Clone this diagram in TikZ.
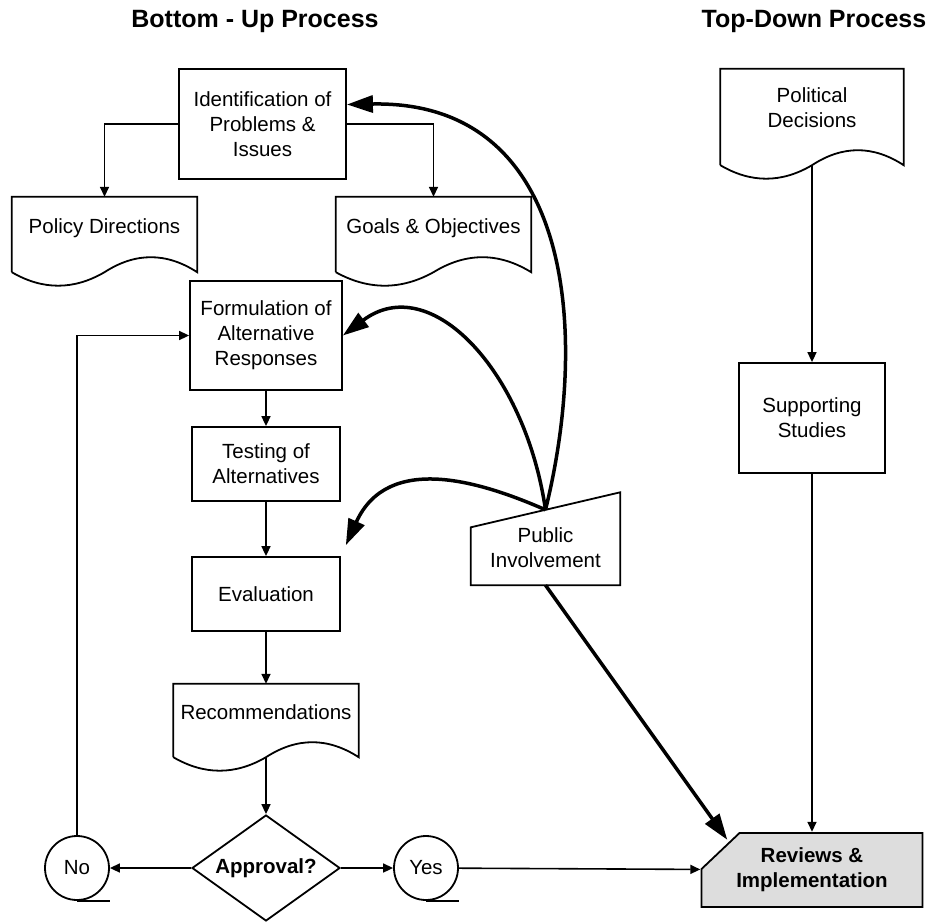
\documentclass[tikz,border=0pt]{standalone}
\usepackage{fontspec}
\setmainfont{Liberation Sans}
\usepackage{tikz}
\usetikzlibrary{shapes.geometric, arrows.meta, calc}
\definecolor{revfill}{HTML}{DDDDDD}
\tikzstyle{txt} = [font=\fontsize{20.5}{25}\selectfont, align=center]
\tikzstyle{heading} = [font=\fontsize{25}{30}\selectfont\bfseries, anchor=base]
\tikzstyle{docline} = [line width=1.8pt]
\tikzstyle{process} = [rectangle, draw=black, line width=1.8pt, inner sep=0pt, txt]
\tikzstyle{docbox} = [rectangle, inner sep=0pt, minimum height=75pt, text depth=17pt, txt, append after command={\pgfextra{\let\docnode\tikzlastnode
  \draw[docline] (\docnode.south west) -- (\docnode.north west) -- (\docnode.north east) -- (\docnode.south east)
  .. controls ($(\docnode.south east)!0.333!(\docnode.south)+(0,-20)$) and ($(\docnode.south east)!0.667!(\docnode.south)+(0,-20)$) .. (\docnode.south)
  .. controls ($(\docnode.south)!0.333!(\docnode.south west)+(0,18)$) and ($(\docnode.south)!0.667!(\docnode.south west)+(0,18)$) .. (\docnode.south west);}}]
\tikzstyle{manual} = [rectangle, inner sep=0pt, minimum width=149pt, minimum height=75pt, txt, append after command={\pgfextra{\let\mnode\tikzlastnode
  \draw[docline] (\mnode.south west) -- ([yshift=-17.5pt]\mnode.north west) -- ([yshift=17.5pt]\mnode.north east) -- (\mnode.south east) -- cycle;}}]
\tikzstyle{tape} = [circle, draw=black, line width=1.8pt, minimum size=64pt, inner sep=0pt, txt, append after command={\pgfextra{\draw[docline] (\tikzlastnode.south) -- ++(33,0);}}]
\tikzstyle{decision} = [diamond, draw=black, line width=1.8pt, aspect=1.4, inner sep=0pt, minimum width=148pt, minimum height=106pt, txt, font=\fontsize{20.5}{25}\selectfont\bfseries]
\tikzstyle{review} = [rectangle, inner sep=0pt, minimum width=223pt, minimum height=76pt, txt, font=\fontsize{20.5}{25}\selectfont\bfseries, path picture={\filldraw[fill=revfill, line width=1.8pt]
  ([shift={(1pt,-37pt)}]path picture bounding box.north west) -- ([shift={(39pt,-1pt)}]path picture bounding box.north west) -- ([shift={(-1pt,-1pt)}]path picture bounding box.north east) -- ([shift={(-1pt,1pt)}]path picture bounding box.south east) -- ([shift={(1pt,1pt)}]path picture bounding box.south west) -- cycle;}]
\tikzstyle{arrow} = [line width=1.6pt, -{Triangle[length=10pt,width=9pt]}]
\tikzstyle{bigarrow} = [line width=3.5pt, -{Triangle[length=26pt,width=17pt]}]

\begin{document}
\begin{tikzpicture}[x=1pt, y=-1pt]
\useasboundingbox (0,0) rectangle (930,922);
\node (bu) [heading] at (255,27) {Bottom - Up Process};
\node (td) [heading] at (814,27) {Top-Down Process};
\node (ident) [process, minimum width=167pt, minimum height=110pt] at (262.5,124) {Identification of\\Problems \&\\Issues};
\node (policy) [docbox, minimum width=185pt] at (104.5,234.5) {Policy Directions};
\node (goals) [docbox, minimum width=195pt] at (433.5,234.5) {Goals \& Objectives};
\node (form) [process, minimum width=152pt, minimum height=109pt] at (266,335.5) {Formulation of\\Alternative\\Responses};
\node (test) [process, minimum width=148pt, minimum height=74pt] at (266,464) {Testing of\\Alternatives};
\node (eval) [process, minimum width=148pt, minimum height=74pt] at (266,594) {Evaluation};
\node (recom) [docbox, minimum width=185pt, minimum height=73pt] at (266,720.5) {Recommendations};
\node (approv) [decision] at (266,868) {Approval?};
\node (no) [tape] at (77,868) {No};
\node (yes) [tape] at (426,868) {Yes};
\node (pubinv) [manual] at (545.5,547.5) {Public\\Involvement};
\node (polit) [docbox, minimum width=183pt, minimum height=96pt, text depth=19pt] at (812,117) {Political\\Decisions};
\node (supp) [process, minimum width=146pt, minimum height=110pt] at (812,418) {Supporting\\Studies};
\node (review) [review] at (812,870) {Reviews \&\\Implementation};

\draw [arrow] (ident.west) -| (policy.north);
\draw [arrow] (ident.east) -| (goals.north);
\draw [arrow] (form) -- (test);
\draw [arrow] (test) -- (eval);
\draw [arrow] (eval) -- (recom);
\draw [arrow] (recom) -- (approv);
\draw [arrow] (approv) -- (no);
\draw [arrow] (approv) -- (yes);
\draw [arrow] (no) |- (form);
\draw [arrow] (yes) -- (review);
\draw [arrow] (polit) -- (supp);
\draw [arrow] (supp) -- (review);
% public involvement feeds back into the process
\draw [bigarrow] (pubinv.north) .. controls (590,330) and (572,100) .. (ident.13);
\draw [bigarrow] (pubinv.north) .. controls (525,370) and (430,270) .. (form.east);
\draw [bigarrow, shorten >=12pt] (pubinv.north) .. controls (482,482) and (388,452) .. (eval.north east);
\draw [bigarrow] (pubinv.south) -- ([shift={(27pt,-8pt)}]review.north west);
\end{tikzpicture}
\end{document}
